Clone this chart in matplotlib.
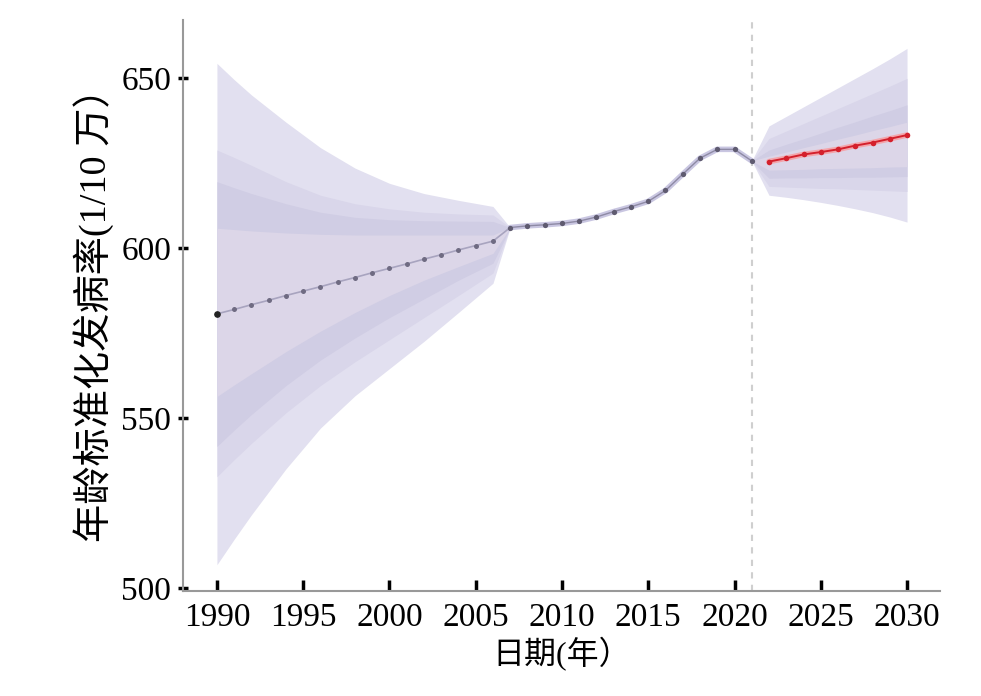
import matplotlib
matplotlib.use("Agg")
import matplotlib.pyplot as plt

plt.rcParams['font.family'] = ['Liberation Serif', 'Noto Sans CJK SC', 'DejaVu Sans']

# back-projected segment (1990-2006) and its uncertainty fan
back_years = [1990, 1991, 1992, 1994, 1996, 1998, 2000, 2002, 2004, 2006, 2007]
back_u4 = [654.3, 649.5, 645.0, 637.0, 629.5, 623.5, 619.0, 616.0, 614.0, 612.2, 606.0]
back_u3 = [628.8, 626.6, 624.3, 619.5, 615.5, 613.0, 611.5, 610.5, 610.0, 609.7, 606.0]
back_u2 = [619.5, 617.7, 616.0, 613.0, 610.5, 609.0, 608.3, 608.0, 607.9, 607.8, 606.0]
back_u1 = [605.8, 605.4, 605.0, 604.4, 604.0, 603.8, 603.8, 603.8, 603.8, 603.8, 606.0]
back_l1 = [556.3, 559.7, 563.0, 569.5, 575.5, 581.0, 586.0, 590.5, 594.5, 598.4, 606.0]
back_l2 = [541.6, 546.4, 551.0, 559.5, 567.0, 573.5, 579.5, 585.0, 590.5, 595.5, 606.0]
back_l3 = [532.7, 537.7, 542.5, 551.5, 559.5, 566.5, 573.0, 579.5, 586.0, 592.6, 606.0]
back_l4 = [506.8, 514.3, 521.5, 535.0, 547.0, 556.5, 564.5, 572.5, 581.0, 589.6, 606.0]

proj_years = list(range(1990, 2008))
proj_rate = [580.6, 581.9, 583.3, 584.6, 586.0, 587.3, 588.6, 590.0, 591.3,
             592.7, 594.0, 595.3, 596.7, 598.0, 599.4, 600.7, 602.0, 606.0]

# observed
obs_years = list(range(2007, 2022))
obs_rate = [606.0, 606.5, 606.8, 607.2, 607.9, 609.1, 610.7, 612.1, 613.7,
            616.9, 621.7, 626.4, 629.0, 629.0, 625.6]

# forecast (2022-2030) and its fan, starting at the last observed point
fc_years = list(range(2022, 2031))
fc_rate = [625.4, 626.4, 627.5, 628.2, 629.0, 630.1, 631.0, 632.1, 633.2]

fan_years = [2021] + fc_years
fc_u4 = [625.6, 635.9, 638.7, 641.5, 644.3, 647.1, 649.9, 652.7, 655.6, 658.7]
fc_u3 = [625.6, 632.2, 634.4, 636.6, 638.8, 641.0, 643.2, 645.4, 647.6, 649.9]
fc_u2 = [625.6, 628.8, 630.5, 632.1, 633.8, 635.5, 637.1, 638.8, 640.4, 642.1]
fc_u1 = [625.6, 627.0, 628.2, 629.5, 630.7, 632.0, 633.2, 634.5, 635.7, 637.0]
fc_l1 = [625.6, 622.9, 623.0, 623.1, 623.3, 623.4, 623.5, 623.6, 623.8, 623.9]
fc_l2 = [625.6, 620.5, 620.6, 620.6, 620.7, 620.7, 620.8, 620.8, 620.9, 621.0]
fc_l3 = [625.6, 618.1, 617.9, 617.7, 617.5, 617.4, 617.2, 617.0, 616.8, 616.6]
fc_l4 = [625.6, 615.5, 614.9, 614.2, 613.4, 612.5, 611.5, 610.4, 609.1, 607.6]

band_colors = ['#e2e0f0', '#d9d6ea', '#d0cde4', '#dcd6e8']

fig = plt.figure(figsize=(9.81, 6.96), dpi=100)
ax = fig.add_axes([0.1865, 0.151, 0.7715, 0.820])

back_bands = [(back_l4, back_u4), (back_l3, back_u3), (back_l2, back_u2), (back_l1, back_u1)]
fc_bands = [(fc_l4, fc_u4), (fc_l3, fc_u3), (fc_l2, fc_u2), (fc_l1, fc_u1)]
for (lo, hi), c in zip(back_bands, band_colors):
    ax.fill_between(back_years, lo, hi, color=c, linewidth=0, zorder=1)
for (lo, hi), c in zip(fc_bands, band_colors):
    ax.fill_between(fan_years, lo, hi, color=c, linewidth=0, zorder=1)

ax.axvline(2021, color='#cfcfcf', linestyle=(0, (3, 3)), linewidth=1.5, zorder=2)

# back projection
ax.plot(proj_years, proj_rate, color='#a8a4bf', linewidth=1.2, zorder=3)
ax.plot(proj_years[:-1], proj_rate[:-1], 'o', color='#6f6b82', markersize=3.6,
        markeredgewidth=0, zorder=4)
ax.plot(proj_years[0], proj_rate[0], 'o', color='#222222', markersize=3.8, zorder=5)

# observed
ax.plot(obs_years, obs_rate, color='#c9c6e1', linewidth=4, solid_capstyle='round', zorder=3)
ax.plot(obs_years, obs_rate, color='#8e8aa5', linewidth=1, zorder=4)
ax.plot(obs_years, obs_rate, 'o', color='#5f5b70', markersize=3.8,
        markeredgewidth=0, zorder=5)

# forecast
ax.plot(fc_years, fc_rate, color='#f3a5ab', linewidth=4, solid_capstyle='round', zorder=3)
ax.plot(fc_years, fc_rate, color='#d4202c', linewidth=1.4, zorder=4)
ax.plot(fc_years, fc_rate, 'o', color='#d4202c', markersize=4,
        markeredgewidth=0, zorder=5)

ax.set_xlim(1988.03, 2031.9)
ax.set_ylim(499.1, 667)
ax.set_xticks(range(1990, 2031, 5))
ax.set_yticks([500, 550, 600, 650])

for side in ['top', 'right']:
    ax.spines[side].set_visible(False)
for side in ['left', 'bottom']:
    ax.spines[side].set_color('#999999')
    ax.spines[side].set_linewidth(1.5)

ax.tick_params(axis='x', direction='in', length=8, width=2.5, color='black',
               labelsize=24, pad=8)
ax.tick_params(axis='y', direction='inout', length=7, width=2.5, color='black',
               labelsize=24, pad=5)

ax.set_xlabel('日期(年）', fontsize=23, labelpad=3)
ax.set_ylabel('年龄标准化发病率(1/10 万）', fontsize=27.5, labelpad=5)

fig.savefig('out.png', dpi=100)
